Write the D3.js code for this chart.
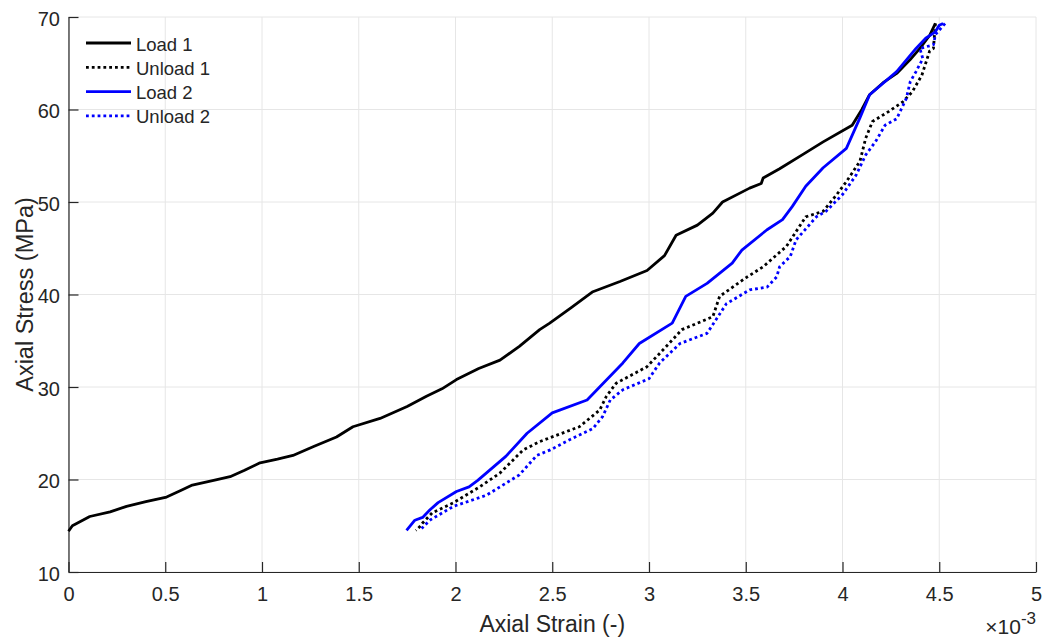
<!DOCTYPE html>
<html>
<head>
<meta charset="utf-8">
<script src="https://cdn.jsdelivr.net/npm/d3@7"></script>
<style>
  body { margin: 0; background: #fff; }
  text { font-family: "Liberation Sans", Arial, sans-serif; fill: #262626; }
</style>
</head>
<body>
<div id="chart"></div>
<script>
// strain values are in units of 1e-3
const load1 = [[0,14.4],[0.02,15.0],[0.11,16.0],[0.215,16.5],[0.30,17.1],[0.40,17.6],[0.507,18.1],[0.58,18.8],[0.64,19.4],[0.75,19.9],[0.835,20.3],[0.91,21.0],[0.99,21.8],[1.08,22.2],[1.16,22.6],[1.27,23.6],[1.385,24.6],[1.47,25.7],[1.61,26.6],[1.75,27.9],[1.85,29.0],[1.93,29.8],[2.005,30.8],[2.12,32.0],[2.23,32.9],[2.33,34.4],[2.435,36.2],[2.487,36.9],[2.60,38.6],[2.71,40.3],[2.85,41.4],[2.99,42.6],[3.08,44.2],[3.14,46.4],[3.25,47.5],[3.33,48.8],[3.38,50.0],[3.52,51.5],[3.58,52.0],[3.59,52.6],[3.675,53.6],[3.80,55.2],[3.90,56.5],[4.05,58.3],[4.10,60.0],[4.14,61.6],[4.21,62.9],[4.28,63.9],[4.35,65.4],[4.40,66.6],[4.45,68.0],[4.48,69.3]];
const unload1 = [[4.48,69.3],[4.47,66.6],[4.45,66.3],[4.41,63.7],[4.36,61.9],[4.31,60.8],[4.24,59.8],[4.155,58.7],[4.12,56.9],[4.09,54.4],[4.02,52.2],[3.97,50.8],[3.90,49.0],[3.81,48.4],[3.71,45.2],[3.59,43.0],[3.50,41.8],[3.365,39.8],[3.33,37.6],[3.17,36.2],[3.09,34.4],[2.99,32.2],[2.83,30.4],[2.78,29.0],[2.745,27.5],[2.64,25.7],[2.435,24.1],[2.35,23.2],[2.23,20.7],[2.125,19.2],[1.99,17.5],[1.88,16.4],[1.83,15.3],[1.815,14.9],[1.795,14.5]];
const load2 = [[1.747,14.5],[1.79,15.6],[1.83,15.9],[1.867,16.7],[1.91,17.5],[2.005,18.7],[2.07,19.2],[2.115,19.9],[2.26,22.5],[2.37,25.0],[2.50,27.2],[2.68,28.6],[2.745,30.0],[2.865,32.6],[2.95,34.7],[3.12,36.9],[3.19,39.8],[3.30,41.2],[3.43,43.4],[3.48,44.8],[3.61,47.0],[3.69,48.1],[3.74,49.5],[3.81,51.7],[3.90,53.7],[4.02,55.8],[4.09,59.1],[4.14,61.6],[4.28,64.1],[4.38,66.6],[4.43,67.7],[4.48,68.4],[4.50,69.1],[4.52,69.3]];
const unload2 = [[4.53,69.3],[4.48,68.1],[4.47,67.0],[4.40,66.6],[4.415,65.5],[4.38,64.1],[4.35,63.0],[4.33,61.2],[4.28,59.0],[4.22,58.3],[4.17,56.5],[4.12,55.1],[4.07,52.9],[4.00,50.8],[3.915,49.0],[3.865,48.4],[3.76,45.9],[3.73,44.1],[3.675,43.0],[3.66,41.9],[3.61,40.8],[3.52,40.5],[3.40,39.0],[3.30,35.8],[3.16,34.7],[3.055,32.6],[3.00,30.9],[2.865,29.7],[2.80,28.6],[2.76,26.8],[2.71,25.5],[2.59,24.3],[2.49,23.2],[2.42,22.6],[2.33,20.5],[2.16,18.3],[1.99,17.1],[1.867,15.6],[1.825,14.7]];

const xTicks = [0,0.5,1,1.5,2,2.5,3,3.5,4,4.5,5];
const yTicks = [10,20,30,40,50,60,70];
const seriesNames = ["Load 1","Unload 1","Load 2","Unload 2"];
const seriesColors = ["#000000","#000000","#0000ff","#0000ff"];
const seriesDotted = [false,true,false,true];
const seriesData = [load1, unload1, load2, unload2];

const width = 1045, height = 641;
const margin = {top: 17, right: 9, bottom: 69, left: 68.5};

const svg = d3.select("#chart").append("svg")
  .attr("width", width).attr("height", height);

const x = d3.scaleLinear().domain([0,5]).range([margin.left, width - margin.right]);
const y = d3.scaleLinear().domain([10,70]).range([height - margin.bottom, margin.top]);

// grid
svg.append("g").selectAll("line").data(xTicks).enter().append("line")
  .attr("x1", d => x(d)).attr("x2", d => x(d))
  .attr("y1", y(10)).attr("y2", y(70))
  .attr("stroke", "#e6e6e6").attr("stroke-width", 1);
svg.append("g").selectAll("line").data(yTicks).enter().append("line")
  .attr("x1", x(0)).attr("x2", x(5))
  .attr("y1", d => y(d)).attr("y2", d => y(d))
  .attr("stroke", "#e6e6e6").attr("stroke-width", 1);

// axes, ticks pointing inward
const xAxis = d3.axisBottom(x).tickValues(xTicks).tickSizeInner(-10).tickSizeOuter(0).tickPadding(15)
  .tickFormat(d3.format("~g"));
const yAxis = d3.axisLeft(y).tickValues(yTicks).tickSizeInner(-10).tickSizeOuter(0).tickPadding(8.5);

const gX = svg.append("g").attr("transform", `translate(0,${y(10)})`).call(xAxis);
const gY = svg.append("g").attr("transform", `translate(${x(0)},0)`).call(yAxis);
[gX, gY].forEach(g => {
  g.select(".domain").attr("stroke", "#262626").attr("stroke-width", 1.2);
  g.selectAll(".tick line").attr("stroke", "#262626").attr("stroke-width", 1.2);
  g.selectAll(".tick text").attr("font-size", 20).attr("fill", "#262626")
    .attr("font-family", "Liberation Sans, Arial, sans-serif");
});
gY.selectAll(".tick text").attr("dy", "0.42em");

// lines
const line = d3.line().x(d => x(d[0])).y(d => y(d[1]));
seriesData.forEach((data, i) => {
  svg.append("path").datum(data)
    .attr("fill", "none")
    .attr("stroke", seriesColors[i])
    .attr("stroke-width", 2.8)
    .attr("stroke-linejoin", "round")
    .attr("stroke-dasharray", seriesDotted[i] ? "2.8,3" : null)
    .attr("d", line);
});

// legend
const legend = svg.append("g").attr("transform", "translate(86,43)");
seriesNames.forEach((name, i) => {
  const row = legend.append("g").attr("transform", `translate(0,${i * 24.3})`);
  row.append("line").attr("x1", 0).attr("x2", 45).attr("y1", 0).attr("y2", 0)
    .attr("stroke", seriesColors[i]).attr("stroke-width", 2.8)
    .attr("stroke-dasharray", seriesDotted[i] ? "2.8,3" : null);
  row.append("text").attr("x", 50).attr("y", 7.5).attr("font-size", 18.5).text(name);
});

// axis labels
svg.append("text").attr("x", (x(0) + x(5)) / 2).attr("y", 632)
  .attr("text-anchor", "middle").attr("font-size", 23).text("Axial Strain (-)");
svg.append("text").attr("transform", `translate(33,${(y(10) + y(70)) / 2}) rotate(-90)`)
  .attr("text-anchor", "middle").attr("font-size", 23.5).text("Axial Stress (MPa)");

// exponent
const expo = svg.append("text").attr("x", 1036).attr("y", 634).attr("text-anchor", "end").attr("font-size", 21);
expo.append("tspan").text("\u00d710");
expo.append("tspan").attr("dy", -10).attr("font-size", 17).text("-3");
</script>
</body>
</html>
